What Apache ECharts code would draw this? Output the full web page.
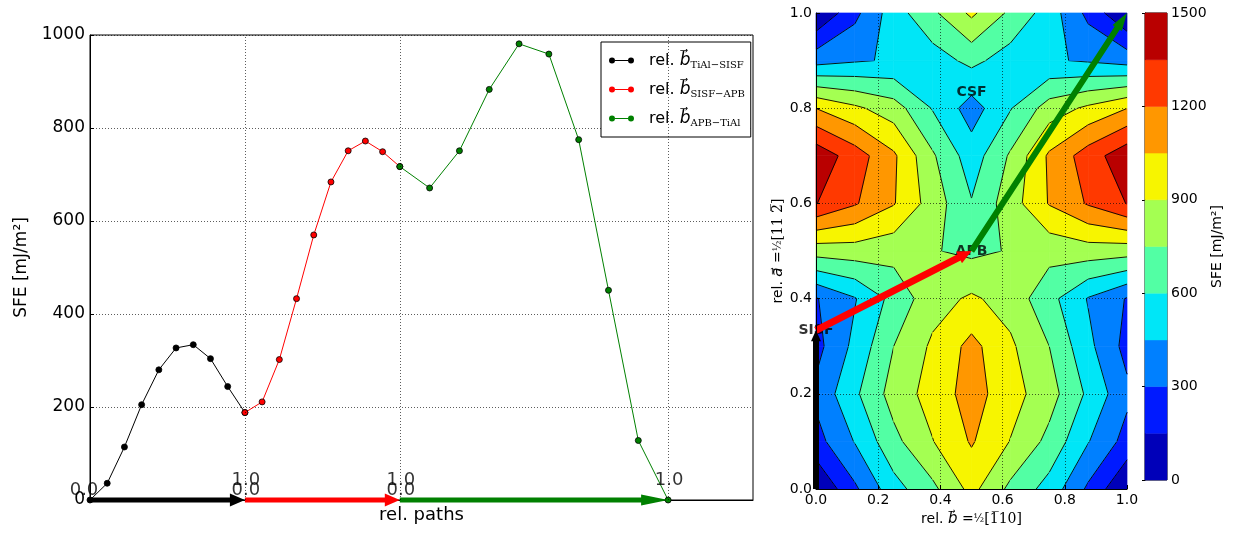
<!DOCTYPE html>
<html>
<head>
<meta charset="utf-8">
<script src="https://cdn.jsdelivr.net/npm/echarts@6/dist/echarts.min.js"></script>
<style>
  html, body { margin: 0; padding: 0; background: #fff; }
  #main { width: 1247px; height: 533px; }
</style>
</head>
<body>
<div id="main"></div>
<script>
// SFE along the three relative paths (left panel)
var pathNames = ['TiAl\u2212SISF', 'SISF\u2212APB', 'APB\u2212TiAl'];
var pathStarts = [0, 1, 2];
var pathLengths = [1, 1, 1.732];
var sfeTiAlSisf = [0, 36, 114, 205, 280, 327, 334, 304, 244, 188];
var sfeSisfApb = [188, 211, 302, 433, 570, 684, 751, 772, 749, 717];
var sfeApbTiAl = [717, 671, 751, 883, 981, 959, 775, 451, 128, 0];
var pathEndLabels = ['0.0', '1.0'];

// gamma surface sampled on a b x a grid (right panel)
var gridB = [0, 0.125, 0.25, 0.375, 0.5, 0.625, 0.75, 0.875, 1];
var gridA = [0, 0.1, 0.2, 0.3, 0.4, 0.5, 0.6, 0.7, 0.8, 0.9, 1];
var gammaSurface = [
  [0, 274, 542, 715, 946, 715, 542, 274, 0],
  [245, 458, 708, 895, 1065, 895, 708, 458, 245],
  [335, 572, 812, 960, 1115, 960, 812, 572, 335],
  [250, 490, 750, 925, 1095, 925, 750, 490, 250],
  [290, 440, 650, 840, 923, 840, 650, 440, 290],
  [815, 830, 802, 760, 717, 760, 802, 830, 815],
  [1355, 1215, 1060, 830, 610, 830, 1060, 1215, 1355],
  [1450, 1275, 1075, 770, 520, 770, 1075, 1275, 1450],
  [1048, 930, 820, 590, 380, 590, 820, 930, 1048],
  [390, 435, 465, 530, 640, 530, 465, 435, 390],
  [0, 260, 530, 720, 930, 720, 530, 260, 0]
];
var levels = [0, 150, 300, 450, 600, 750, 900, 1050, 1200, 1350, 1500];
var bandColors = ['#0000b9', '#001aff', '#0080ff', '#00e6f7', '#52ffa4',
                  '#a4ff52', '#f7f500', '#ff9700', '#ff3900', '#b90000'];
// special points on the surface and the path between them
var surfacePoints = [[0, 1 / 3, 'SISF'], [0.5, 0.5, 'APB'], [0.5, 5 / 6, 'CSF']];
var surfacePath = [[0, 0], [0, 1 / 3], [0.5, 0.5], [1, 1]];

var lineColors = ['#000000', '#ff0000', '#008000'];
var FONT = 'DejaVu Sans';
var MATH = "'DejaVu Serif', 'DejaVu Sans'";

var chart = echarts.init(document.getElementById('main'));

function toPairs(k, values) {
  return values.map(function (v, i) {
    return [pathStarts[k] + pathLengths[k] * i / (values.length - 1), v];
  });
}

function arrowPoints(p0, p1, w, hl, hw) {
  var dx = p1[0] - p0[0], dy = p1[1] - p0[1];
  var len = Math.sqrt(dx * dx + dy * dy);
  var ux = dx / len, uy = dy / len, nx = -uy, ny = ux;
  var bx = p1[0] - ux * hl, by = p1[1] - uy * hl;
  return [
    [p0[0] + nx * w / 2, p0[1] + ny * w / 2],
    [bx + nx * w / 2, by + ny * w / 2],
    [bx + nx * hw / 2, by + ny * hw / 2],
    [p1[0], p1[1]],
    [bx - nx * hw / 2, by - ny * hw / 2],
    [bx - nx * w / 2, by - ny * w / 2],
    [p0[0] - nx * w / 2, p0[1] - ny * w / 2]
  ];
}

// arrow styles: [shaft width, head length, head width]
var bottomArrowStyle = [[5, 15, 13], [5, 15, 13], [5, 27, 11]];
var surfaceArrowStyle = [[6, 11, 10], [7, 14, 13], [6, 18, 11]];

function renderArrow(styles) {
  return function (params, api) {
    var k = api.value(4);
    var s = styles[k];
    var p0 = api.coord([api.value(0), api.value(1)]);
    var p1 = api.coord([api.value(2), api.value(3)]);
    return {
      type: 'polygon',
      shape: { points: arrowPoints(p0, p1, s[0], s[1], s[2]) },
      style: { fill: lineColors[k] }
    };
  };
}

function clipPoly(pts, level, keepAbove) {
  var out = [];
  for (var n = 0; n < pts.length; n++) {
    var p = pts[n], q = pts[(n + 1) % pts.length];
    var pin = keepAbove ? p[2] >= level : p[2] <= level;
    var qin = keepAbove ? q[2] >= level : q[2] <= level;
    if (pin) out.push(p);
    if (pin !== qin) {
      var t = (level - p[2]) / (q[2] - p[2]);
      out.push([p[0] + t * (q[0] - p[0]), p[1] + t * (q[1] - p[1]), level]);
    }
  }
  return out;
}

// one cell of the filled contour plot plus its contour lines
function renderCell(params, api) {
  var i = api.value(2), j = api.value(3);
  var c = [
    [gridB[i], gridA[j], gammaSurface[j][i]],
    [gridB[i + 1], gridA[j], gammaSurface[j][i + 1]],
    [gridB[i + 1], gridA[j + 1], gammaSurface[j + 1][i + 1]],
    [gridB[i], gridA[j + 1], gammaSurface[j + 1][i]]
  ];
  var children = [];
  for (var k = 0; k < levels.length - 1; k++) {
    var poly = clipPoly(clipPoly(c, levels[k], true), levels[k + 1], false);
    if (poly.length < 3) continue;
    children.push({
      type: 'polygon',
      shape: { points: poly.map(function (p) { return api.coord([p[0], p[1]]); }) },
      style: { fill: bandColors[k], stroke: bandColors[k], lineWidth: 0.7 }
    });
  }
  for (var m = 1; m < levels.length - 1; m++) {
    var L = levels[m];
    var cr = [];
    for (var e = 0; e < 4; e++) {
      var p = c[e], q = c[(e + 1) % 4];
      if ((p[2] < L) !== (q[2] < L)) {
        var t = (L - p[2]) / (q[2] - p[2]);
        cr.push(api.coord([p[0] + t * (q[0] - p[0]), p[1] + t * (q[1] - p[1])]));
      } else {
        cr.push(null);
      }
    }
    var segs = [];
    var hits = cr.filter(function (x) { return x; });
    if (hits.length === 2) {
      segs.push(hits);
    } else if (hits.length === 4) {
      if (c[0][2] < L) { segs.push([cr[3], cr[0]]); segs.push([cr[1], cr[2]]); }
      else { segs.push([cr[0], cr[1]]); segs.push([cr[2], cr[3]]); }
    }
    segs.forEach(function (sg) {
      children.push({
        type: 'line',
        shape: { x1: sg[0][0], y1: sg[0][1], x2: sg[1][0], y2: sg[1][1] },
        style: { stroke: '#000', lineWidth: 0.9 }
      });
    });
  }
  return { type: 'group', children: children };
}

var cells = [];
for (var j = 0; j < gridA.length - 1; j++) {
  for (var i = 0; i < gridB.length - 1; i++) {
    cells.push([gridB[i], gridA[j], i, j]);
  }
}

var bottomArrows = pathStarts.map(function (s, k) {
  return [s, 0, s + pathLengths[k], 0, k];
});
var surfaceArrows = [0, 1, 2].map(function (k) {
  return [surfacePath[k][0], surfacePath[k][1], surfacePath[k + 1][0], surfacePath[k + 1][1], k];
});

var endMarks = [];
pathStarts.forEach(function (s, k) {
  endMarks.push({ value: [s, 0], name: pathEndLabels[0], label: { offset: [k === 0 ? -6 : 1, -10] } });
  endMarks.push({ value: [s + pathLengths[k], 0], name: pathEndLabels[1], label: { offset: [1, -20] } });
});

var dotted = { color: '#000', width: 0.8, type: [1, 2], opacity: 0.8 };
var plain = function (v) { return String(v); };
var oneDecimal = function (v) { return v.toFixed(1); };

var lineSeries = [sfeTiAlSisf, sfeSisfApb, sfeApbTiAl].map(function (vals, k) {
  return {
    name: pathNames[k], type: 'line', xAxisIndex: 0, yAxisIndex: 0,
    data: toPairs(k, vals),
    symbol: 'circle', symbolSize: 6, showSymbol: true,
    lineStyle: { color: lineColors[k], width: 1 },
    itemStyle: { color: lineColors[k], borderColor: '#000', borderWidth: 0.8 },
    z: 3
  };
});

var surfGrid = [0.2, 0.4, 0.6, 0.8];
var mathRich = {
  v: { fontFamily: MATH, fontStyle: 'italic', fontSize: 15 },
  m: { fontFamily: MATH, fontSize: 14 },
  f: { fontFamily: MATH, fontSize: 11 }
};

var option = {
  animation: false,
  textStyle: { fontFamily: FONT },
  grid: [
    { left: 90, top: 35, width: 663, height: 465, show: true, borderColor: '#000', borderWidth: 1 },
    { left: 816, top: 13, width: 311, height: 476 },
    { left: 1145, top: 13, width: 22, height: 467, show: true, borderColor: '#000', borderWidth: 1 }
  ],
  legend: {
    data: pathNames, orient: 'vertical', left: 601, top: 42,
    backgroundColor: '#fff', borderColor: '#000', borderWidth: 1,
    padding: [10, 6, 9, 8], itemGap: 11, itemWidth: 25, itemHeight: 6,
    icon: 'path://M0,3A3,3,0,1,1,6,3A3,3,0,1,1,0,3ZM19,3A3,3,0,1,1,25,3A3,3,0,1,1,19,3ZM6,2.5L19,2.5L19,3.5L6,3.5Z',
    itemStyle: { borderWidth: 0 },
    formatter: function (name) { return '{g|}rel. {v|b\u20D7}{s|' + name + '}'; },
    textStyle: {
      fontSize: 16, color: '#000', fontFamily: FONT,
      rich: {
        g: { width: 10 },
        v: { fontFamily: MATH, fontStyle: 'italic', fontSize: 17 },
        s: { fontFamily: MATH, fontSize: 10, padding: [9, 0, 0, 0] }
      }
    }
  },
  xAxis: [
    {
      gridIndex: 0, type: 'value', min: 0, max: 4.28,
      axisLine: { show: true, lineStyle: { color: '#000' } },
      axisTick: { show: false }, axisLabel: { show: false }, splitLine: { show: false },
      name: 'rel. paths', nameLocation: 'middle', nameGap: 6,
      nameTextStyle: { fontSize: 18, color: '#000', fontFamily: FONT }
    },
    {
      gridIndex: 1, type: 'value', min: 0, max: 1, interval: 0.2, z: 10,
      axisLine: { show: true, lineStyle: { color: '#000' } },
      axisTick: { show: true, inside: true, length: 4, lineStyle: { color: '#000' } },
      axisLabel: { fontSize: 14, color: '#000', margin: 4, formatter: oneDecimal },
      splitLine: { show: false },
      name: 'rel. {v|b\u20D7}{m| =}{f|\u00BD}{m|[1\u030510]}', nameLocation: 'middle', nameGap: 21,
      nameTextStyle: { fontSize: 14, color: '#000', fontFamily: FONT, rich: mathRich }
    },
    { gridIndex: 2, type: 'value', min: 0, max: 1, show: false }
  ],
  yAxis: [
    {
      gridIndex: 0, type: 'value', min: 0, max: 1000, interval: 200,
      axisLine: { show: true, lineStyle: { color: '#000' } },
      axisTick: { show: true, inside: true, length: 4, lineStyle: { color: '#000' } },
      axisLabel: { fontSize: 17, color: '#000', margin: 5, formatter: plain },
      splitLine: { show: true, lineStyle: dotted },
      name: 'SFE [mJ/m\u00B2]', nameLocation: 'middle', nameGap: 60,
      nameTextStyle: { fontSize: 17, color: '#000', fontFamily: FONT }
    },
    {
      gridIndex: 1, type: 'value', min: 0, max: 1, interval: 0.2, z: 10,
      axisLine: { show: true, lineStyle: { color: '#000' } },
      axisTick: { show: true, inside: true, length: 4, lineStyle: { color: '#000' } },
      axisLabel: { fontSize: 14, color: '#000', margin: 4, formatter: oneDecimal },
      splitLine: { show: false },
      name: 'rel. {v|a\u20D7}{m| =}{f|\u00BD}{m|[11 2\u0305]}', nameLocation: 'middle', nameGap: 30,
      nameTextStyle: { fontSize: 14, color: '#000', fontFamily: FONT, rich: mathRich }
    },
    {
      gridIndex: 2, type: 'value', position: 'right', min: 0, max: 1500, interval: 300,
      axisLine: { show: true, lineStyle: { color: '#000' } },
      axisTick: { show: true, inside: true, length: 3, lineStyle: { color: '#000' } },
      axisLabel: { fontSize: 14, color: '#000', margin: 4, formatter: plain },
      splitLine: { show: false },
      name: 'SFE [mJ/m\u00B2]', nameLocation: 'middle', nameGap: 42, nameRotate: 90,
      nameTextStyle: { fontSize: 14, color: '#000', fontFamily: FONT }
    }
  ],
  series: lineSeries.concat([
    {
      type: 'line', xAxisIndex: 0, yAxisIndex: 0, data: [], z: 1, silent: true,
      markLine: {
        silent: true, symbol: ['none', 'none'], label: { show: false },
        lineStyle: dotted,
        data: pathStarts.map(function (s, k) { return { xAxis: s + pathLengths[k] }; })
      }
    },
    {
      type: 'custom', xAxisIndex: 0, yAxisIndex: 0, clip: false, z: 4,
      renderItem: renderArrow(bottomArrowStyle), data: bottomArrows
    },
    {
      type: 'scatter', xAxisIndex: 0, yAxisIndex: 0, symbolSize: 0, z: 5,
      label: {
        show: true, position: 'inside', formatter: '{b}',
        fontSize: 18, color: '#000', fontFamily: FONT
      },
      data: endMarks
    },
    {
      type: 'custom', xAxisIndex: 1, yAxisIndex: 1, z: 2,
      renderItem: renderCell, data: cells
    },
    {
      type: 'line', xAxisIndex: 1, yAxisIndex: 1, data: [], z: 3, silent: true,
      markLine: {
        silent: true, symbol: ['none', 'none'], label: { show: false },
        lineStyle: dotted,
        data: surfGrid.map(function (v) { return { xAxis: v }; })
          .concat(surfGrid.map(function (v) { return { yAxis: v }; }))
      }
    },
    {
      type: 'scatter', xAxisIndex: 1, yAxisIndex: 1, symbolSize: 0, z: 4,
      label: {
        show: true, position: 'inside', formatter: function (p) { return p.value[2]; },
        fontSize: 14, fontWeight: 'bold', color: '#000', fontFamily: FONT
      },
      data: surfacePoints
    },
    {
      type: 'custom', xAxisIndex: 1, yAxisIndex: 1, clip: false, z: 6,
      renderItem: renderArrow(surfaceArrowStyle), data: surfaceArrows
    },
    {
      type: 'custom', xAxisIndex: 2, yAxisIndex: 2, z: 2,
      renderItem: function (params, api) {
        var k = api.value(2);
        var a = api.coord([0, api.value(1)]);
        var b = api.coord([1, api.value(0)]);
        return {
          type: 'rect',
          shape: { x: a[0], y: a[1], width: b[0] - a[0], height: b[1] - a[1] },
          style: { fill: bandColors[k], stroke: bandColors[k], lineWidth: 0.5 }
        };
      },
      data: bandColors.map(function (col, k) { return [levels[k], levels[k + 1], k]; })
    }
  ])
};

chart.setOption(option);
</script>
</body>
</html>
